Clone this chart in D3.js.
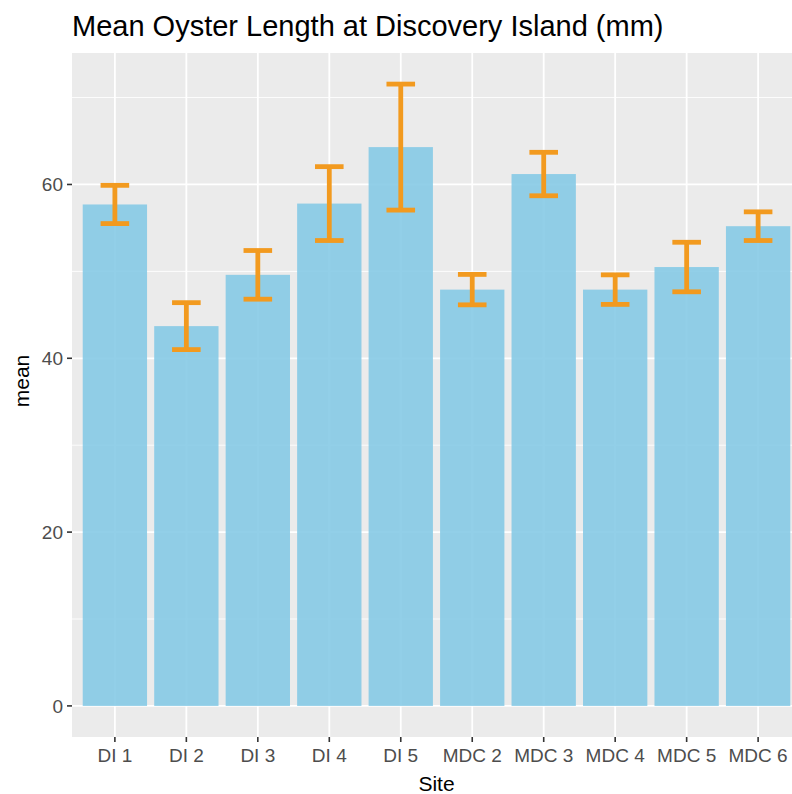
<!DOCTYPE html>
<html><head><meta charset="utf-8">
<script src="https://cdn.jsdelivr.net/npm/d3@7"></script>
<style>body{margin:0;background:#fff;overflow:hidden}svg{display:block}</style>
</head><body>
<script>
const sites = ["DI 1","DI 2","DI 3","DI 4","DI 5","MDC 2","MDC 3","MDC 4","MDC 5","MDC 6"];
const means = [57.7, 43.7, 49.6, 57.8, 64.3, 47.9, 61.2, 47.9, 50.5, 55.2];
const errs  = [2.2, 2.7, 2.8, 4.25, 7.25, 1.75, 2.5, 1.7, 2.85, 1.65];
const yTicks = [0, 20, 40, 60];
const yMinor = [10, 30, 50, 70];
const title = "Mean Oyster Length at Discovery Island (mm)";

const W = 792, H = 794;
const pl = 72, pr = 801, pt = 53, pb = 737;
const svg = d3.select("body").append("svg").attr("width", W).attr("height", H);

const ymaxData = d3.max(means.map((m,i)=>m+errs[i]));
const pad = ymaxData*0.05;
const y = d3.scaleLinear().domain([-pad, ymaxData+pad]).range([pb, pt]);
const step = (pr-pl)/(sites.length - 1 + 1.2);
const x = d3.scalePoint().domain(sites).range([pl+0.6*step, pr-0.6*step]);

svg.append("rect").attr("x",pl).attr("y",pt).attr("width",pr-pl).attr("height",pb-pt).attr("fill","#EBEBEB");
const g = svg.append("g");
g.selectAll(".ymin").data(yMinor).join("line")
  .attr("x1",pl).attr("x2",pr).attr("y1",d=>y(d)).attr("y2",d=>y(d))
  .attr("stroke","#fff").attr("stroke-width",0.9);
g.selectAll(".ymaj").data(yTicks).join("line")
  .attr("x1",pl).attr("x2",pr).attr("y1",d=>y(d)).attr("y2",d=>y(d))
  .attr("stroke","#fff").attr("stroke-width",1.8);
g.selectAll(".xmaj").data(sites).join("line")
  .attr("x1",d=>x(d)).attr("x2",d=>x(d)).attr("y1",pt).attr("y2",pb)
  .attr("stroke","#fff").attr("stroke-width",1.8);

const bw = step*0.9;
svg.append("g").selectAll("rect").data(sites).join("rect")
  .attr("x",d=>x(d)-bw/2).attr("width",bw)
  .attr("y",(d,i)=>y(means[i])).attr("height",(d,i)=>y(0)-y(means[i]))
  .attr("fill","rgb(134,202,230)").attr("fill-opacity",0.9);

const ec = "#F29A1F", ew = 4.8, cw = step*0.4;
const eg = svg.append("g").attr("stroke",ec).attr("stroke-width",ew).attr("fill","none");
sites.forEach((s,i)=>{
  const cx = x(s), lo = y(means[i]-errs[i]), hi = y(means[i]+errs[i]);
  eg.append("line").attr("x1",cx).attr("x2",cx).attr("y1",lo).attr("y2",hi);
  eg.append("line").attr("x1",cx-cw/2).attr("x2",cx+cw/2).attr("y1",lo).attr("y2",lo);
  eg.append("line").attr("x1",cx-cw/2).attr("x2",cx+cw/2).attr("y1",hi).attr("y2",hi);
});

const font = "Liberation Sans, Arial, Helvetica, sans-serif";
// y axis
const ya = svg.append("g");
ya.selectAll("line").data(yTicks).join("line")
  .attr("x1",pl-5).attr("x2",pl).attr("y1",d=>y(d)).attr("y2",d=>y(d))
  .attr("stroke","#333").attr("stroke-width",1.6);
ya.selectAll("text").data(yTicks).join("text")
  .attr("x",pl-9).attr("y",d=>y(d)).attr("dy","0.36em").attr("text-anchor","end")
  .attr("font-family",font).attr("font-size",19).attr("fill","#4D4D4D").text(d=>d);
// x axis
const xa = svg.append("g");
xa.selectAll("line").data(sites).join("line")
  .attr("x1",d=>x(d)).attr("x2",d=>x(d)).attr("y1",pb).attr("y2",pb+5)
  .attr("stroke","#333").attr("stroke-width",1.6);
xa.selectAll("text").data(sites).join("text")
  .attr("x",d=>x(d)).attr("y",762).attr("text-anchor","middle")
  .attr("font-family",font).attr("font-size",19).attr("fill","#4D4D4D").text(d=>d);

svg.append("text").attr("x",(pl+pr)/2).attr("y",791).attr("text-anchor","middle")
  .attr("font-family",font).attr("font-size",21).attr("fill","#000").text("Site");
svg.append("text").attr("transform",`translate(29,381) rotate(-90)`).attr("text-anchor","middle")
  .attr("font-family",font).attr("font-size",21).attr("fill","#000").text("mean");
svg.append("text").attr("x",pl).attr("y",36)
  .attr("font-family",font).attr("font-size",29).attr("fill","#000").text(title);
</script>
</body></html>
